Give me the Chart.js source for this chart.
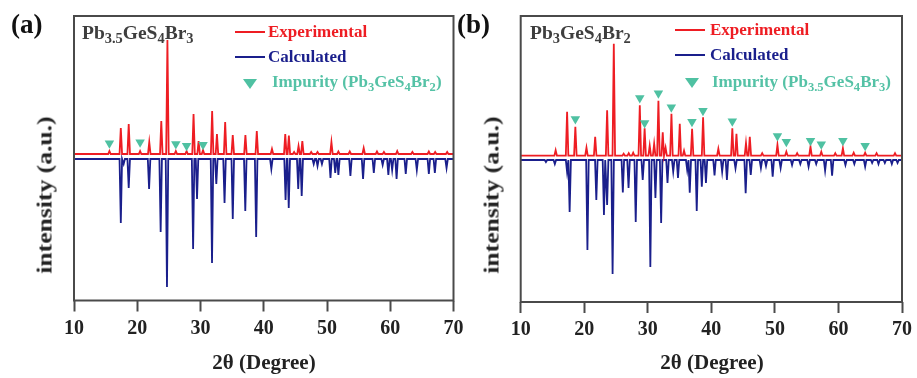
<!DOCTYPE html>
<html>
<head>
<meta charset="utf-8">
<script src="https://cdn.jsdelivr.net/npm/chart.js@4.4.1/dist/chart.umd.min.js"></script>
<style>
  html, body { margin: 0; padding: 0; background: #fff; }
  #wrap { position: relative; width: 917px; height: 378px; overflow: hidden;
          font-family: 'Liberation Serif', 'Times New Roman', serif; font-weight: bold; }
  canvas { position: absolute; top: 0; }
  #cvA { left: 0; }
  #cvB { left: 460px; }
  .t { position: absolute; white-space: nowrap; line-height: 1; }
  .sub { font-size: 0.74em; position: relative; top: 0.3em; }
  .pl { font-size: 27px; color: #111; }
  .cmp { font-size: 19.5px; color: #3e3e3e; }
  .lg { font-size: 17px; }
  .ln { position: absolute; height: 2px; width: 30px; }
  .tri { position: absolute; width: 0; height: 0; border-left: 7px solid transparent;
         border-right: 7px solid transparent; border-top: 10px solid #4fc1a2; }
  .yt { font-size: 21px; color: #222; transform: translate(-50%, -50%) rotate(-90deg) scaleX(1.22); }
  .xt { font-size: 21px; color: #222; transform: translateX(-50%); }
</style>
</head>
<body>
<div id="wrap">
  <canvas id="cvA" width="480" height="378"></canvas>
  <canvas id="cvB" width="457" height="378"></canvas>

  <!-- panel (a) texts -->
  <div class="t pl" style="left:11px;top:11px">(a)</div>
  <div class="t cmp" style="left:82px;top:23px">Pb<span class="sub">3.5</span>GeS<span class="sub">4</span>Br<span class="sub">3</span></div>
  <div class="ln" style="left:235px;top:31px;background:#ee1d23"></div>
  <div class="t lg" style="left:268px;top:23px;color:#ee1d23">Experimental</div>
  <div class="ln" style="left:235px;top:56px;background:#1a1f8c"></div>
  <div class="t lg" style="left:268px;top:48px;color:#1a1f8c">Calculated</div>
  <div class="tri" style="left:243px;top:79px"></div>
  <div class="t lg" style="left:272px;top:73px;color:#55c2a6">Impurity (Pb<span class="sub">3</span>GeS<span class="sub">4</span>Br<span class="sub">2</span>)</div>
  <div class="t yt" style="left:45px;top:195px">intensity (a.u.)</div>
  <div class="t xt" style="left:264px;top:352px">2θ (Degree)</div>

  <!-- panel (b) texts -->
  <div class="t pl" style="left:457px;top:11px">(b)</div>
  <div class="t cmp" style="left:530px;top:23px">Pb<span class="sub">3</span>GeS<span class="sub">4</span>Br<span class="sub">2</span></div>
  <div class="ln" style="left:675px;top:29px;background:#ee1d23"></div>
  <div class="t lg" style="left:710px;top:21px;color:#ee1d23">Experimental</div>
  <div class="ln" style="left:675px;top:54px;background:#1a1f8c"></div>
  <div class="t lg" style="left:710px;top:46px;color:#1a1f8c">Calculated</div>
  <div class="tri" style="left:685px;top:78px"></div>
  <div class="t lg" style="left:712px;top:73px;color:#55c2a6">Impurity (Pb<span class="sub">3.5</span>GeS<span class="sub">4</span>Br<span class="sub">3</span>)</div>
  <div class="t yt" style="left:492px;top:195px">intensity (a.u.)</div>
  <div class="t xt" style="left:712px;top:352px">2θ (Degree)</div>
</div>

<script>
/* ── XRD patterns: peak position (2θ) + intensity ── */

const xTicks = [10, 20, 30, 40, 50, 60, 70];

// (a) Pb3.5GeS4Br3
const expA_pos = [15.6, 17.4, 18.65, 20.45, 21.9, 23.8, 24.77, 26.1, 27.8, 28.9, 29.7, 30.4, 31.84, 32.6, 33.9,
  35.1, 37.1, 38.9, 41.3, 43.4, 43.97, 44.8, 45.5, 46.1, 47.5, 48.5, 50.7, 51.8, 53.6, 55.8, 57.9, 59.0,
  61.1, 63.5, 66.1, 67.1, 69.0];
const expA_int = [3, 26, 30, 3, 12, 33, 114, 3, 3, 40, 13, 4, 43, 20, 32,
  19, 19, 23, 5, 20, 18.5, 2, 8, 13, 2, 2, 12, 2.5, 2.5, 6, 2.5, 2,
  3, 2, 2.5, 2, 2];
const calA_pos = [17.4, 17.85, 18.65, 21.87, 23.7, 24.7, 28.83, 29.45, 31.82, 32.5, 33.8, 35.1, 37.08, 38.8,
  41.2, 43.45, 43.95, 45.45, 46.0, 47.9, 48.5, 49.2, 50.55, 51.3, 51.8, 53.7, 55.7, 57.4, 58.8, 59.7,
  60.3, 61.0, 62.45, 64.2, 66.1, 67.05, 68.9];
const calA_int = [64, 5, 29, 30, 73, 128, 90, 40, 104, 25, 44, 60, 52, 78,
  10, 41, 49, 30, 37, 5, 7, 5, 19, 14, 16, 17, 20, 14, 6, 16,
  11, 20, 15, 11, 15, 14, 9];
const impA_pos = [15.6, 20.45, 26.1, 27.8, 30.4];
const impA_int = [10.7, 11.7, 10, 8.3, 9.3];

// (b) Pb3GeS4Br2
const expB_pos = [15.5, 17.3, 18.6, 20.35, 21.72, 23.6, 24.65, 26.2, 27.0, 27.7, 28.74, 29.5, 30.3, 31.0,
  31.67, 32.35, 32.8, 33.72, 35.03, 35.7, 36.97, 38.7, 41.1, 43.3, 43.95, 45.45, 46.05, 48.0, 50.4,
  51.8, 53.5, 55.6, 57.3, 59.5, 60.7, 62.4, 64.2, 66.0, 68.9];
const expB_int = [5.5, 44, 29, 8, 19, 45.5, 112, 2, 2.5, 3, 50.5, 27.5, 10, 12,
  55, 23.5, 8, 42, 32, 5, 27, 38.4, 7, 27.5, 22, 12.5, 19, 2.5, 10.7,
  4, 2.5, 9, 4, 2.5, 7.4, 3, 3, 2.5, 2.5];
const calB_pos = [13.97, 15.37, 17.3, 17.7, 20.5, 21.9, 23.1, 23.6, 24.46, 26.07, 26.97, 28.1, 29.2,
  30.4, 31.2, 32.1, 33.1, 34.0, 34.75, 36.2, 36.6, 37.7, 38.5, 39.15, 40.5, 41.7, 42.45, 43.8, 45.4,
  46.2, 47.8, 48.6, 49.65, 50.9, 52.7, 54.0, 55.3, 56.5, 57.9, 59.0, 61.1, 62.5, 64.2, 65.3, 66.3,
  67.3, 68.4, 69.3];
const calB_int = [2, 4, 12, 52, 90, 40, 55, 45, 114, 32.5, 28, 62, 20,
  107, 38, 63, 23, 11.7, 18, 10, 32.7, 51, 26.7, 23, 15.5, 11.7, 20, 8.3, 33.3,
  15, 8, 6, 16.7, 8, 5, 4, 6.7, 4, 10.7, 15.7, 5, 4, 6.7, 3, 4,
  3, 4, 3];
const impB_pos = [18.6, 28.74, 29.5, 31.67, 33.7, 36.95, 38.68, 43.3, 50.4, 51.8, 55.6, 57.3, 60.7, 64.2];
const impB_int = [36.7, 57.7, 32.7, 62.4, 48.4, 34, 45, 34.4, 19.7, 14, 15, 11.4, 15, 10];

/* ── drawing ── */

const RED = '#ee1d23', NAVY = '#1a1f8c', TEAL = '#4fc1a2', FRAME = '#4a4a4a';
const HALF_W = 0.2;   // half base width of a drawn peak, in degrees

// stick-like peak profile: baseline → apex → baseline for each listed peak
function profile(pos, ints, base, dir) {
  const order = pos.map((p, i) => i).sort((a, b) => pos[a] - pos[b]);
  const pts = [{ x: xTicks[0], y: base }];
  order.forEach(i => {
    pts.push({ x: pos[i] - HALF_W, y: base });
    pts.push({ x: pos[i], y: base + dir * ints[i] });
    pts.push({ x: pos[i] + HALF_W, y: base });
  });
  pts.push({ x: xTicks[xTicks.length - 1], y: base });
  return pts;
}

function marks(pos, ints) {
  return pos.map((p, i) => ({ x: p, y: ints[i] }));
}

const framePlugin = {
  id: 'frame',
  afterDatasetsDraw(chart) {
    const { ctx, chartArea: a } = chart;
    ctx.save();
    ctx.strokeStyle = FRAME; ctx.lineWidth = 2;
    ctx.strokeRect(a.left, a.top, a.right - a.left, a.bottom - a.top);
    ctx.restore();
  }
};

function makeChart(id, exp, cal, imp, yMin, yMax, pad, xH) {
  return new Chart(document.getElementById(id), {
    type: 'line',
    data: {
      datasets: [
        { data: imp, showLine: false, pointStyle: 'triangle', rotation: 180, pointRadius: 5.5,
          pointBackgroundColor: TEAL, pointBorderWidth: 0 },
        { data: exp, borderColor: RED, borderWidth: 1.8, pointRadius: 0, tension: 0 },
        { data: cal, borderColor: NAVY, borderWidth: 1.8, pointRadius: 0, tension: 0 }
      ]
    },
    options: {
      responsive: false, animation: false, devicePixelRatio: 1,
      layout: { padding: pad },
      plugins: { legend: { display: false }, tooltip: { enabled: false } },
      scales: {
        x: {
          type: 'linear', min: xTicks[0], max: xTicks[xTicks.length - 1],
          afterBuildTicks: s => { s.ticks = xTicks.map(v => ({ value: v })); },
          afterFit: s => { s.height = xH; },
          border: { display: false },
          grid: { drawOnChartArea: false, drawTicks: true, tickLength: 11, tickWidth: 2, tickColor: FRAME },
          ticks: { padding: 5, color: '#222', maxRotation: 0,
                   font: { family: 'Liberation Serif', weight: 'bold', size: 20 } }
        },
        y: { display: false, min: yMin, max: yMax }
      }
    },
    plugins: [framePlugin]
  });
}

makeChart('cvA',
  profile(expA_pos, expA_int, 0, 1),
  profile(calA_pos, calA_int, -5, -1),
  marks(impA_pos, impA_int),
  -146.5, 138,
  { left: 74, right: 26.5, top: 16, bottom: 0 }, 77.5);

makeChart('cvB',
  profile(expB_pos, expB_int, 0, 1),
  profile(calB_pos, calB_int, -4.3, -1),
  marks(impB_pos, impB_int),
  -146.3, 139.7,
  { left: 60.7, right: 13.3, top: 16, bottom: 0 }, 76);
</script>
</body>
</html>
